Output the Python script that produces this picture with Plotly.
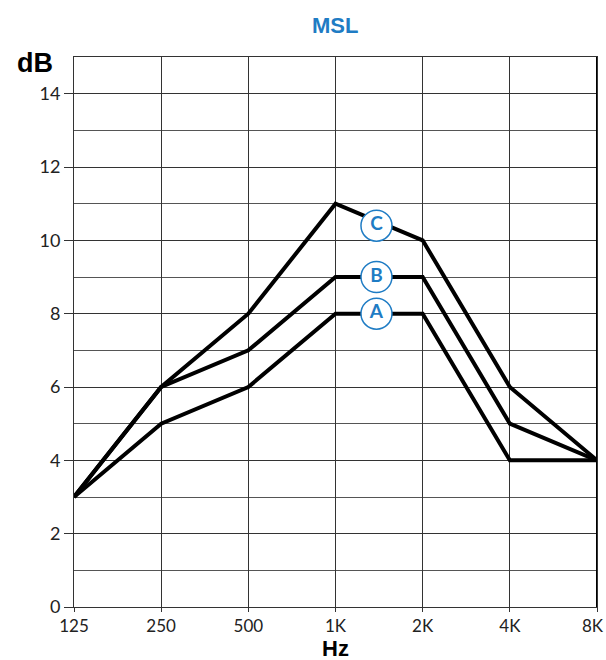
import plotly.graph_objects as go

freqs = ["125", "250", "500", "1K", "2K", "4K", "8K"]
curve_a = [3, 5, 6, 8, 8, 4, 4]
curve_b = [3, 6, 7, 9, 9, 5, 4]
curve_c = [3, 6, 8, 11, 10, 6, 4]
label_names = ["A", "B", "C"]
label_x = [3.47, 3.47, 3.47]
label_y = [8, 9, 10.4]
y_ticks = [0, 2, 4, 6, 8, 10, 12, 14]

BLUE = "#1f7cc4"
xs = list(range(len(freqs)))

fig = go.Figure()
for ys in (curve_a, curve_b, curve_c):
    fig.add_trace(go.Scatter(x=xs, y=ys, mode="lines",
                             line=dict(color="black", width=4),
                             showlegend=False, hoverinfo="skip", cliponaxis=False))

fig.add_trace(go.Scatter(
    x=label_x, y=label_y, mode="markers+text", text=label_names,
    textposition="middle center",
    textfont=dict(color=BLUE, size=19, family="Lato", weight="bold"),
    marker=dict(size=31, color="white", line=dict(color=BLUE, width=1.5)),
    showlegend=False, hoverinfo="skip", cliponaxis=False))

fig.update_layout(
    width=606, height=660,
    margin=dict(l=74, r=9, t=57, b=53, autoexpand=False),
    plot_bgcolor="white", paper_bgcolor="white",
    font=dict(family="Lato", color="#222", size=18),
    title=dict(text="<b>MSL</b>", x=0.553, xanchor="center", y=0.962, yanchor="middle",
               font=dict(color=BLUE, size=22, family="Liberation Sans")),
)
fig.update_xaxes(
    range=[0, 6], tickvals=xs, ticktext=freqs[:-1] + [""],
    tickfont=dict(size=17),
    showgrid=True, gridcolor="#333", gridwidth=1,
    showline=True, linecolor="#333", linewidth=1, mirror=True,
    ticks="outside", ticklen=4, tickcolor="#333",
    zeroline=False, fixedrange=True, automargin=False,
)
fig.update_yaxes(
    range=[0, 15], tickvals=y_ticks,
    showgrid=True, gridcolor="#333", gridwidth=1,
    minor=dict(dtick=1, showgrid=True, gridcolor="#555", gridwidth=1),
    showline=True, linecolor="#333", linewidth=1, mirror=True,
    ticks="outside", ticklen=9, tickcolor="#333",
    zeroline=False, fixedrange=True, automargin=False,
)
fig.add_shape(type="line", xref="x", yref="paper", x0=6, x1=6, y0=0, y1=1,
              line=dict(color="black", width=2))
# last tick label, kept inside the page edge
fig.add_annotation(text=freqs[-1], xref="x", yref="paper", x=xs[-1], y=0,
                   xanchor="right", yanchor="middle", xshift=9, yshift=-18,
                   showarrow=False, font=dict(size=17, color="#222", family="Lato"))
fig.add_annotation(text="<b>dB</b>", xref="paper", yref="paper", x=-0.075, y=0.99,
                   xanchor="center", yanchor="middle", showarrow=False,
                   font=dict(size=27, color="black", family="Liberation Sans"))
fig.add_annotation(text="<b>Hz</b>", xref="x", yref="paper", x=3, y=-0.076,
                   xanchor="center", yanchor="middle", showarrow=False, borderpad=0,
                   font=dict(size=22, color="black", family="Liberation Sans"))

fig.write_html("out.html", config={"displayModeBar": False},
               post_script="document.body.style.margin='0';document.body.style.overflow='hidden';")
